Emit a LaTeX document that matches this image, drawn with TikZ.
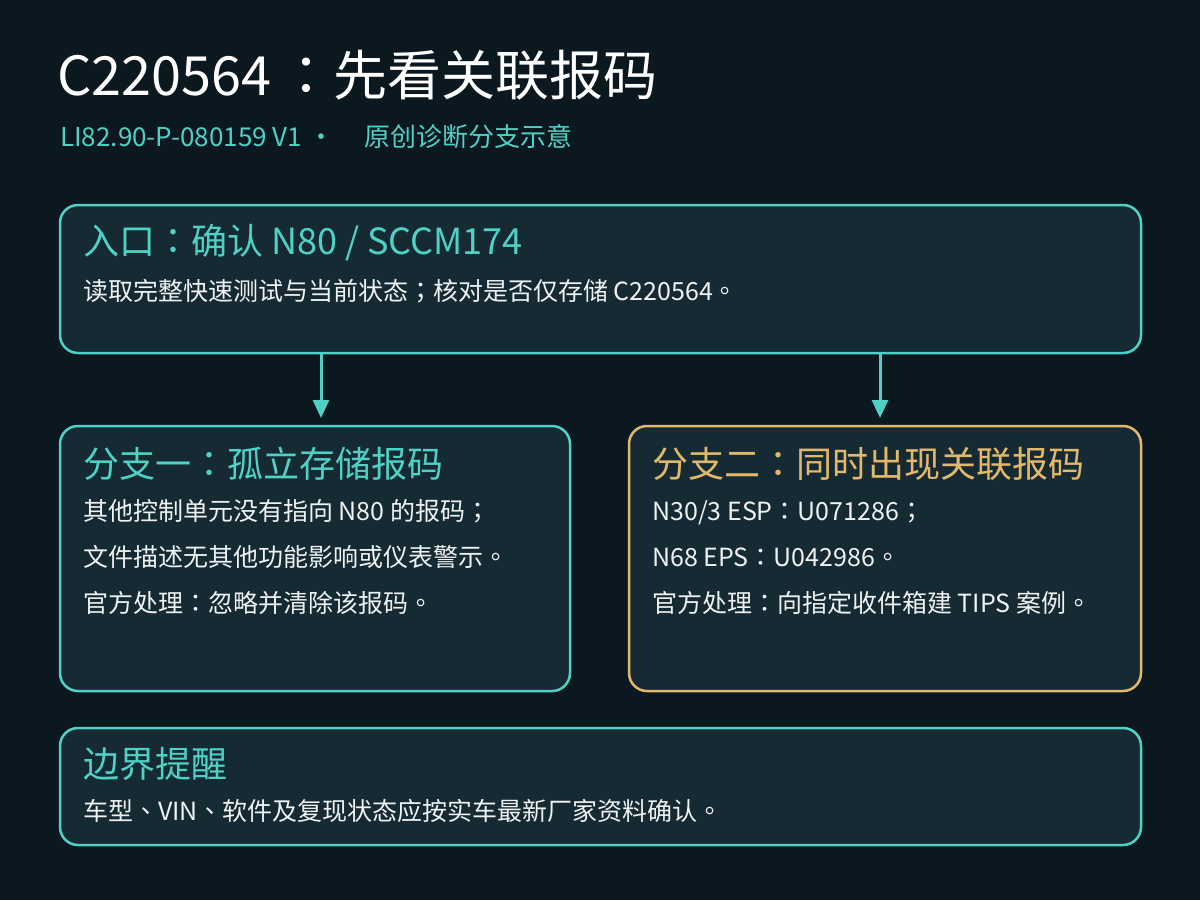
\documentclass[tikz,border=0pt]{standalone}
\usepackage{fontspec}
\setmainfont{Noto Sans CJK SC}
\newfontfamily\tcpunct{Noto Sans CJK TC}
\usetikzlibrary{arrows.meta,positioning}

\definecolor{bgdark}{HTML}{0B1820}
\definecolor{cardfill}{HTML}{162A33}
\definecolor{accent}{HTML}{4FD1C5}
\definecolor{gold}{HTML}{E2B86C}
\definecolor{paper}{HTML}{EEF2F2}

% centred full-width punctuation
\newcommand\fcolon{{\tcpunct ：}}
\newcommand\fsemi{{\tcpunct ；}}
\newcommand\fstop{{\tcpunct 。}}
\newcommand\fcomma{{\tcpunct 、}}

\begin{document}
\begin{tikzpicture}[x=1pt, y=-1pt, node distance=37pt,
    card/.style={rectangle, draw=accent, line width=2.5pt, fill=cardfill, rounded corners=18pt,
      inner sep=0pt, outer sep=0pt, minimum width=1081pt, minimum height=148pt},
    heading/.style={anchor=base west, inner sep=0pt, text=accent, font=\fontsize{36}{40}\selectfont},
    body/.style={anchor=base west, inner sep=0pt, text=paper, font=\fontsize{25}{30}\selectfont},
    flow/.style={draw=accent, line width=3pt, -{Triangle[width=16pt,length=18pt]}, shorten >=8pt}]

\fill[bgdark] (0,0) rectangle (1200,900);
\useasboundingbox (0,0) rectangle (1200,900);

% title
\node[anchor=base west, inner sep=0pt, text=white, font=\fontsize{54}{60}\selectfont] (title) at (57,95) {C220564\hspace{8pt}\fcolon 先看关联报码};
\node[anchor=base west, inner sep=0pt, text=accent, font=\fontsize{26}{30}\selectfont] (subtitle) at (60,146) {LI82.90-P-080159 V1 ·\hspace{30pt}原创诊断分支示意};

% boxes
\node[card, anchor=north west] (entry) at (60,205) {};
\node[card, below=73pt of entry.south west, anchor=north west, minimum width=510pt, minimum height=265pt] (iso) {};
\node[card, below=73pt of entry.south east, anchor=north east, minimum width=512pt, minimum height=265pt, draw=gold] (rel) {};
\node[card, below=of iso.south west, anchor=north west, minimum height=117pt] (note) {};

% entry text
\node[heading] (entryhead) at ([shift={(23,49)}]entry.north west) {入口\fcolon 确认 N80 / SCCM174};
\node[body] (entrytxt) at ([shift={(23,95)}]entry.north west) {读取完整快速测试与当前状态\fsemi 核对是否仅存储 C220564\fstop};

% branch one
\node[heading] (isohead) at ([shift={(23,51)}]iso.north west) {分支一\fcolon 孤立存储报码};
\node[body] (iso1) at ([shift={(23,94)}]iso.north west) {其他控制单元没有指向 N80 的报码\fsemi};
\node[body] (iso2) at ([shift={(23,140)}]iso.north west) {文件描述无其他功能影响或仪表警示\fstop};
\node[body] (iso3) at ([shift={(23,186)}]iso.north west) {官方处理\fcolon 忽略并清除该报码\fstop};

% branch two
\node[heading, text=gold] (relhead) at ([shift={(23,51)}]rel.north west) {分支二\fcolon 同时出现关联报码};
\node[body] (rel1) at ([shift={(23,94)}]rel.north west) {N30/3 ESP\fcolon U071286\fsemi};
\node[body] (rel2) at ([shift={(23,140)}]rel.north west) {N68 EPS\fcolon U042986\fstop};
\node[body] (rel3) at ([shift={(23,186)}]rel.north west) {官方处理\fcolon 向指定收件箱建 TIPS 案例\fstop};

% boundary note
\node[heading] (notehead) at ([shift={(23,49)}]note.north west) {边界提醒};
\node[body] (notetxt) at ([shift={(23,92)}]note.north west) {车型\fcomma VIN\fcomma 软件及复现状态应按实车最新厂家资料确认\fstop};

% arrows
\coordinate (fork1) at (321,0);
\coordinate (fork2) at (880,0);
\draw[flow] (entry.south -| fork1) -- (iso.north -| fork1);
\draw[flow] (entry.south -| fork2) -- (rel.north -| fork2);
\end{tikzpicture}
\end{document}
